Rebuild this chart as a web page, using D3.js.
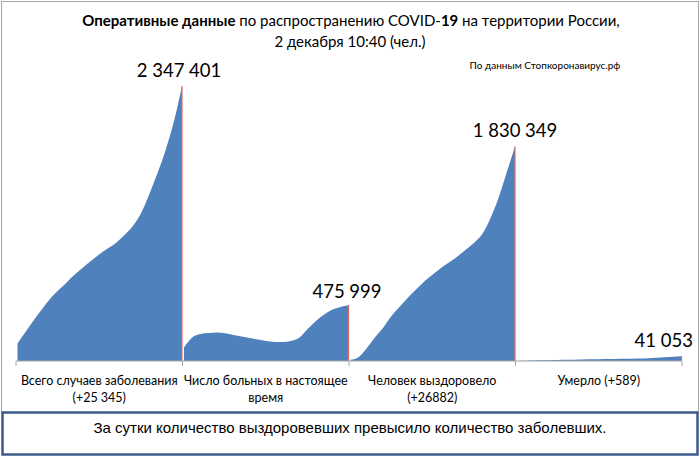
<!DOCTYPE html>
<html><head><meta charset="utf-8">
<script src="https://cdn.jsdelivr.net/npm/d3@7/dist/d3.min.js"></script>
<style>body{margin:0;background:#fff}svg{display:block}</style>
</head><body>
<svg id="c" width="700" height="457"></svg>
<script>
const categories = [
  ["Всего случаев заболевания", "(+25 345)"],
  ["Число больных в настоящее", "время"],
  ["Человек выздоровело", "(+26882)"],
  ["Умерло (+589)"]
];
const finalLabels = ["2 347 401", "475 999", "1 830 349", "41 053"];
const totalCases = [150000,250000,350000,443000,533000,605000,673000,740000,800000,858000,913000,962000,1010000,1075000,1150000,1260000,1420000,1600000,1800000,2040000,2347401];
const activeCases = [115000,200000,230000,239000,244000,236000,222000,210000,197000,183000,170000,163000,162000,171000,198000,270000,340000,395000,437000,460000,475999];
const recovered = [10000,35000,112000,205000,287000,387000,465000,542000,613000,681000,739000,794000,843000,893000,950000,1008000,1081000,1217000,1394000,1612000,1830349];
const deaths = [1000,2500,4000,5500,7000,8500,10000,11500,13000,14500,15500,16500,17500,18500,20000,22000,24500,28000,32000,36500,41053];
const series = [totalCases, activeCases, recovered, deaths];

const svg = d3.select("#c");
// outer frame
svg.append("rect").attr("x",1.5).attr("y",1.5).attr("width",697).attr("height",411)
  .attr("fill","#fff").attr("stroke","#a6a6a6").attr("stroke-width",1);

// title
const t = svg.append("text").attr("x",351).attr("y",26).attr("text-anchor","middle")
  .attr("font-family","Lato, 'Open Sans', sans-serif").attr("font-size",15).attr("fill","#000");
t.append("tspan").attr("font-weight","bold").text("Оперативные данные");
t.append("tspan").text(" по распространению COVID-");
t.append("tspan").attr("font-weight","bold").text("19");
t.append("tspan").text(" на территории России,");
svg.append("text").attr("x",350).attr("y",47).attr("text-anchor","middle")
  .attr("font-family","Lato, 'Open Sans', sans-serif").attr("font-size",15).text("2 декабря 10:40 (чел.)");
svg.append("text").attr("x",545).attr("y",69).attr("text-anchor","middle")
  .attr("font-family","Lato, 'Open Sans', sans-serif").attr("font-size",10).text("По данным Стопкоронавирус.рф");

const x = d3.scaleBand().domain(d3.range(categories.length)).range([16,682]).padding(0);
const y = d3.scaleLinear().domain([0, d3.max(series, s => d3.max(s))]).range([361, 86]);

series.forEach((s, i) => {
  const x0 = x(i), x1 = x(i) + x.bandwidth();
  const xi = d3.scaleLinear().domain([0, s.length-1]).range([x0+1.5, x1-0.5]);
  const area = d3.area().x((d,j)=>xi(j)).y0(y(0)).y1(d=>y(d)).curve(d3.curveMonotoneX);
  svg.append("path").datum(s).attr("d",area).attr("fill","#4f81bd");
  svg.append("line").attr("x1",x1-0.5).attr("x2",x1-0.5).attr("y1",y(s[s.length-1])).attr("y2",y(0))
    .attr("stroke","#e06a6a").attr("stroke-width",1.2);
});

// axis
const axisG = svg.append("g").attr("transform","translate(0,361)");
axisG.append("line").attr("x1",16).attr("x2",682).attr("stroke","#a6a6a6");
d3.range(categories.length+1).forEach(k=>{
  const xx = k<categories.length ? x(k) : x(k-1)+x.bandwidth();
  axisG.append("line").attr("x1",xx).attr("x2",xx).attr("y1",0).attr("y2",5).attr("stroke","#a6a6a6");
});
categories.forEach((lines,i)=>{
  const cx = x(i)+x.bandwidth()/2;
  lines.forEach((ln,k)=>{
    svg.append("text").attr("x",cx).attr("y",385+k*16.5).attr("text-anchor","middle")
      .attr("font-family","Lato, 'Open Sans', sans-serif").attr("font-size",12.5).attr("fill","#000").text(ln);
  });
});

// value labels
const labelPos = [[179,77,"middle"],[347,298,"middle"],[515,137,"middle"],[693,347,"end"]];
finalLabels.forEach((lb,i)=>{
  svg.append("text").attr("x",labelPos[i][0]).attr("y",labelPos[i][1]).attr("text-anchor",labelPos[i][2])
    .attr("font-family","Lato, 'Open Sans', sans-serif").attr("font-size",18.5).attr("fill","#000").text(lb);
});

// bottom box
svg.append("rect").attr("x",2.5).attr("y",412.5).attr("width",695).attr("height",42)
  .attr("fill","#fff").attr("stroke","#3c5b8a").attr("stroke-width",2.5);
svg.append("text").attr("x",350).attr("y",433).attr("text-anchor","middle")
  .attr("font-family","'Liberation Sans', Arial, sans-serif").attr("font-size",15).attr("fill","#000")
  .text("За сутки количество выздоровевших превысило количество заболевших.");
</script>
</body></html>
